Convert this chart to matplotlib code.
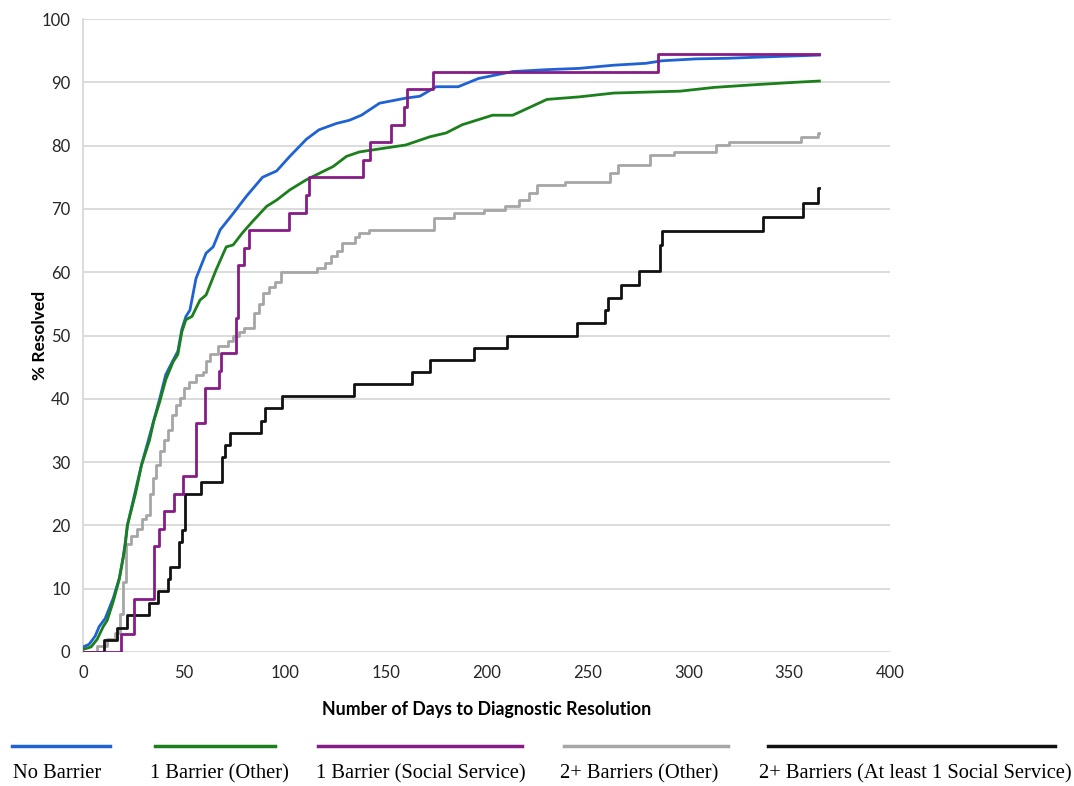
import matplotlib
matplotlib.use('Agg')
import matplotlib.pyplot as plt
from matplotlib.lines import Line2D

# ---- data (days, % resolved) ----
blue_days = [0, 3, 6, 8, 11, 15, 18, 20, 22, 26, 29, 32, 35, 38, 41, 44.5, 47, 49, 51, 53, 56, 61,
             64.5, 68, 74.5, 81, 89, 96, 102.5, 110.7, 117, 125.6, 132, 138, 147, 160, 167, 175, 186,
             196, 213, 230, 246, 263, 279, 287, 304, 320, 337, 365]
blue_pct = [0.8, 1.2, 2.5, 4, 5.3, 8.5, 11.7, 15, 20, 25.5, 29.6, 33, 36.5, 40, 43.8, 46, 47.5, 51, 53, 54,
            59, 63, 64, 66.7, 69.3, 72, 75, 76, 78.3, 81, 82.5, 83.5, 84, 84.8, 86.7, 87.5, 87.8, 89.3,
            89.3, 90.6, 91.7, 92, 92.2, 92.7, 93, 93.4, 93.7, 93.8, 94, 94.3]

green_days = [0, 4, 7, 10, 12, 15, 18, 21, 22, 26, 29, 33, 35, 38, 41, 44.6, 47, 49, 51, 54, 58, 61, 66,
              71, 74.4, 79, 84, 91, 96, 102.5, 110.7, 117, 124, 130.6, 137, 160, 172, 180, 188, 203, 213,
              230, 246, 263, 296, 313, 332, 353, 365]
green_pct = [0.4, 0.8, 2, 4, 5, 8, 11.5, 17, 20, 25, 29.5, 33.5, 36.4, 39.5, 43, 45.8, 47, 50.6, 52.5, 53,
             55.6, 56.4, 60.4, 64, 64.3, 66.2, 68, 70.4, 71.4, 73, 74.6, 75.6, 76.7, 78.3, 79, 80.1, 81.4,
             82, 83.3, 84.8, 84.8, 87.3, 87.7, 88.3, 88.6, 89.2, 89.6, 90, 90.2]

purple_days = [0, 19, 25.5, 35, 37.5, 40, 45, 49.5, 56, 60.5, 67.5, 68.5, 76, 77, 80, 82.5, 102, 110.5,
               112, 139, 142.5, 152.5, 159, 160.5, 173.5, 285, 365]
purple_pct = [0, 2.8, 8.3, 16.7, 19.4, 22.2, 25, 27.8, 36.1, 41.7, 44.4, 47.2, 52.8, 61.1, 63.9, 66.7,
              69.4, 72.2, 75, 77.8, 80.6, 83.3, 86.1, 88.9, 91.7, 94.4, 94.4]

gray_days = [0, 7, 12, 16, 18.5, 20, 21.5, 24, 27, 29, 31, 33, 34.5, 36, 38, 40, 42, 44, 46, 48, 50, 52.5,
             56, 59.5, 61, 63, 67, 72, 74.5, 77.5, 80, 85, 87, 89, 92, 95, 98, 116, 120, 123, 126, 128.5,
             135, 137, 142, 174, 184, 199, 209, 216, 221, 225, 239, 261, 265, 281, 293, 314, 320, 356,
             364.5, 365]
gray_pct = [0, 1, 2, 3, 6, 11, 17, 18.3, 19.5, 21, 21.7, 25, 27.5, 29.5, 31.7, 33.5, 35, 37.5, 39, 40.1,
            41.7, 42.7, 43.8, 44.3, 46, 47, 48.3, 49.2, 50, 50.6, 51.2, 53.5, 55, 56.7, 57.7, 58.5, 60.1,
            60.6, 61.4, 62.5, 63.3, 64.6, 65.5, 66.2, 66.7, 68.5, 69.3, 69.8, 70.4, 71.4, 72.5, 73.8, 74.3,
            75.6, 76.9, 78.5, 79, 80.1, 80.6, 81.4, 82, 82]

black_days = [0, 10.5, 17, 22, 32.5, 37, 42, 43, 47.5, 49, 50.5, 58.5, 69, 70.5, 73, 88, 90, 98.5, 134.5,
              163, 172, 194, 210, 245, 258.5, 260, 266.5, 275.5, 286, 287, 337, 357, 364.5, 365]
black_pct = [0, 1.9, 3.8, 5.8, 7.7, 9.6, 11.5, 13.5, 17.3, 19.2, 25, 26.9, 30.8, 32.7, 34.6, 36.5, 38.5,
             40.4, 42.3, 44.2, 46.2, 48.1, 50, 51.9, 54, 56, 58, 60.2, 64.3, 66.5, 68.7, 71, 73.3, 73.3]

labels = ['No Barrier', '1 Barrier (Other)', '1 Barrier (Social Service)',
          '2+ Barriers (Other)', '2+ Barriers (At least 1 Social Service)']
colors = ['#1f62d4', '#1b801b', '#861c86', '#a6a6a6', '#111111']

fig = plt.figure(figsize=(10.74, 7.86), dpi=100)
ax = fig.add_axes([83 / 1074, 1 - 652 / 786, (890 - 83) / 1074, (652 - 19) / 786])

# the two big groups have many tiny steps -> draw as a plain line
ax.plot(blue_days, blue_pct, color=colors[0], lw=2.0, zorder=3)
ax.plot(green_days, green_pct, color=colors[1], lw=2.0, zorder=3)
ax.step(purple_days, purple_pct, where='post', color=colors[2], lw=2.0, zorder=4)
ax.step(gray_days, gray_pct, where='post', color=colors[3], lw=2.0, zorder=2)
ax.step(black_days, black_pct, where='post', color=colors[4], lw=2.0, zorder=2)

ax.set_xlim(0, 400)
ax.set_ylim(0, 100)
ax.set_xticks(range(0, 401, 50))
ax.set_yticks(range(0, 101, 10))
ax.grid(axis='y', color='#d9d9d9', lw=1.3)
ax.set_axisbelow(True)
for s in ['top', 'right', 'bottom']:
    ax.spines[s].set_visible(False)
ax.spines['left'].set_color('#d9d9d9')
ax.spines['left'].set_linewidth(1.3)
ax.tick_params(length=0, labelsize=12, colors='#262626')
ax.tick_params(axis='x', pad=9)
ax.tick_params(axis='y', pad=9)
for t in ax.get_xticklabels() + ax.get_yticklabels():
    t.set_fontfamily('Lato')

fig.text(487 / 1074, 1 - 710 / 786, 'Number of Days to Diagnostic Resolution', ha='center', va='center',
         fontsize=12.8, fontweight='bold', family='Lato')
fig.text(40 / 1074, 1 - 335 / 786, '% Resolved', ha='center', va='center', rotation=90,
         fontsize=12.5, fontweight='bold', family='Lato')

# legend drawn manually: line above, label below
leg_line_x = [(12, 110), (155, 275), (318, 522), (564, 728), (768, 1055)]
leg_text_x = [57, 219, 421, 639, 915]
for (x0, x1), tx, lab, c in zip(leg_line_x, leg_text_x, labels, colors):
    fig.add_artist(Line2D([x0 / 1074, x1 / 1074], [1 - 746 / 786, 1 - 746 / 786], color=c, lw=2.5))
    fig.text(tx / 1074, 1 - 774 / 786, lab, ha='center', va='center', fontsize=14.8,
             family='Liberation Serif')

fig.savefig('out.png', dpi=100, facecolor='white')
